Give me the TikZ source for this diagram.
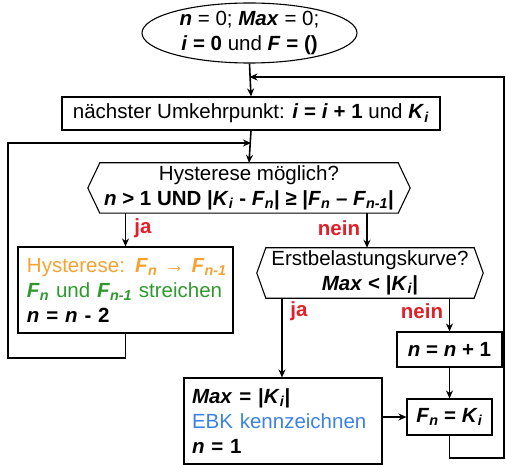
\documentclass[tikz,border=0pt]{standalone}
\usepackage{fontspec}
\setmainfont{Liberation Sans}
\usetikzlibrary{shapes.geometric,arrows.meta}
\newcommand\Vb[1]{\textbf{\textit{#1}}}
\newcommand\Sb[1]{\textsubscript{\textbf{\textit{#1}}}}
\definecolor{cOr}{HTML}{F5A233}
\definecolor{cGr}{HTML}{2E9A2E}
\definecolor{cBl}{HTML}{3C82E6}
\definecolor{cRd}{HTML}{E3202A}
\begin{document}
\begin{tikzpicture}[x=1pt,y=-1pt,
  font=\fontsize{20.5}{25}\selectfont,
  box/.style={draw, line width=1.1pt, inner sep=0pt, align=center},
  lbox/.style={draw, line width=1.1pt, inner sep=0pt, align=left},
  hex/.style={inner sep=0pt, align=center},
  conn/.style={line width=1.6pt, -{Stealth[length=8pt,width=7pt]}},
  lbl/.style={text=cRd, font=\fontsize{20.5}{25}\selectfont\bfseries, inner sep=0pt}]
\useasboundingbox (0,0) rectangle (506,465);

% start ellipse
\node[draw, ellipse, line width=1.1pt, minimum width=215pt, minimum height=60pt, inner sep=0pt] (start) at (249.5,33) {};
\node[align=center, inner sep=0pt] (startT) at (start.center) {\Vb{n} = 0; \Vb{Max} = 0;\\\textbf{\textit{i} = 0} und \textbf{\textit{F} = ()}};

% next reversal point
\node[box, minimum width=378pt, minimum height=33pt] (b1) at (251,113.5)
  {nächster Umkehrpunkt: \textbf{\textit{i} = \textit{i} + 1} und \textbf{\textit{K}\Sb{i}}};

% hexagon 1
\node[hex, minimum width=298pt, minimum height=50pt] (h1) at (249,188)
  {Hysterese möglich?\\\textbf{\textit{n} > 1 UND |\textit{K}\Sb{i} - \textit{F}\Sb{n}| ≥ |\textit{F}\Sb{n} – \textit{F}\Sb{n-1}|}};
\draw[line width=1.1pt] (h1.north west) -- (h1.north east) -- ([xshift=12pt]h1.east) -- (h1.south east) -- (h1.south west) -- ([xshift=-12pt]h1.west) -- cycle;

% hysteresis box
\node[lbox, minimum width=215pt, minimum height=86pt, text width=197pt] (hy) at (125.5,290)
  {\mbox{\color{cOr}Hysterese: \Vb{F}\Sb{n} → \Vb{F}\Sb{n-1}}\\
   \mbox{\color{cGr}\Vb{F}\Sb{n} und \Vb{F}\Sb{n-1} streichen}\\
   \mbox{\textbf{\textit{n} = \textit{n} - 2}}};

% hexagon 2
\node[hex, minimum width=208pt, minimum height=50pt] (h2) at (370,273)
  {Erstbelastungskurve?\\\textbf{\textit{Max} < |\textit{K}\Sb{i}|}};
\draw[line width=1.1pt] (h2.north west) -- (h2.north east) -- ([xshift=9pt]h2.east) -- (h2.south east) -- (h2.south west) -- ([xshift=-9pt]h2.west) -- cycle;

% Max box
\node[lbox, minimum width=198pt, minimum height=86pt, text width=182pt] (mx) at (283,421)
  {\mbox{\textbf{\textit{Max} = |\textit{K}\Sb{i}|}}\\
   \mbox{\color{cBl}EBK kennzeichnen}\\
   \mbox{\textbf{\textit{n} = 1}}};

% n = n + 1
\node[box, minimum width=105pt, minimum height=35pt] (n1) at (449.5,349.5)
  {\textbf{\textit{n} = \textit{n} + 1}};

% F_n = K_i
\node[box, minimum width=85pt, minimum height=36pt] (fk) at (449.5,417)
  {\textbf{\textit{F}\Sb{n} = \textit{K}\Sb{i}}};

% labels
\node[lbl] (ja1) at (143,228) {ja};
\node[lbl] (nein1) at (339,228) {nein};
\node[lbl] (ja2) at (299,311) {ja};
\node[lbl] (nein2) at (422,311) {nein};

% helper coordinates
\coordinate (lt) at (8,143);
\coordinate (lb) at (8,358);
\coordinate (rt) at (504,77);
\coordinate (rb) at (504,458);
\coordinate (xn) at (367,0);
\coordinate (xj) at (282,0);

% connectors
\draw[conn] (start.south) -- (b1.north);
\draw[conn] (fk.south) |- (rb) -- (rt) -- (rt -| start.south);
\draw[conn] (b1.south) -- (h1.north);
\draw[conn] (hy.south) |- (lb) -- (lt) -- (lt -| b1.south);
\draw[conn] (h1.south -| hy.north) -- (hy.north);
\draw[conn] (h1.south -| xn) -- (h2.north -| xn);
\draw[conn] (h2.south -| xj) -- (mx.north -| xj);
\draw[conn] (h2.south -| n1.north) -- (n1.north);
\draw[conn] (n1.south) -- (fk.north);
\draw[conn] (mx.east |- fk.west) -- (fk.west);
\end{tikzpicture}
\end{document}
